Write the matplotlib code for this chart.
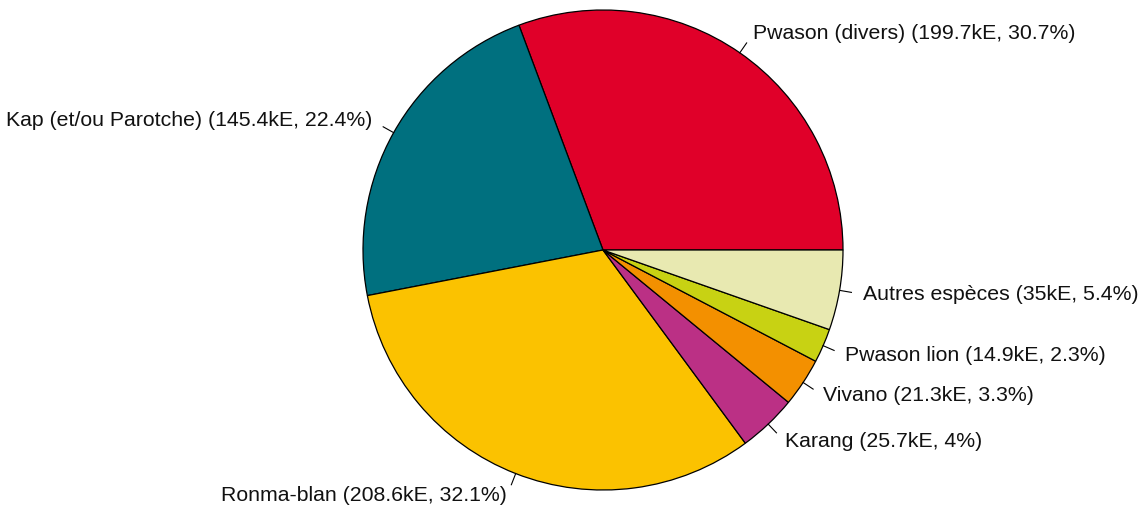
import numpy as np
import matplotlib
matplotlib.use("Agg")
import matplotlib.pyplot as plt

# Data (kE) and shares (%) as printed on the chart
species = ["Pwason (divers)", "Kap (et/ou Parotche)", "Ronma-blan", "Karang",
           "Vivano", "Pwason lion", "Autres espèces"]
values = [199.7, 145.4, 208.6, 25.7, 21.3, 14.9, 35]
shares = [30.7, 22.4, 32.1, 4, 3.3, 2.3, 5.4]
colors = ["#E00029", "#00707F", "#FBC200", "#BB3085", "#F39000", "#C8D213", "#E8E9B1"]

labels = [f"{n} ({v:g}kE, {p:g}%)" for n, v, p in zip(species, values, shares)]

plt.rcParams["font.family"] = ["Liberation Sans", "DejaVu Sans"]

fig = plt.figure(figsize=(11.46, 5.09), dpi=100)
ax = fig.add_axes([0, 0, 1, 1])

cx, cy, r = 603, 259, 240
wedges, _ = ax.pie(values, colors=colors, startangle=0, counterclock=True,
                   center=(cx, cy), radius=r, frame=True,
                   wedgeprops=dict(edgecolor="black", linewidth=0.9))
ax.set_xlim(0, 1146)
ax.set_ylim(0, 509)
ax.set_aspect("equal")
ax.axis("off")

# tick lines from the edge and labels, R style
for w, lab in zip(wedges, labels):
    a = np.deg2rad((w.theta1 + w.theta2) / 2)
    ax.plot([cx + r * np.cos(a), cx + 1.05 * r * np.cos(a)],
            [cy + r * np.sin(a), cy + 1.05 * r * np.sin(a)],
            color="black", linewidth=0.8)
    ax.text(cx + 1.1 * r * np.cos(a), cy + 1.1 * r * np.sin(a), lab,
            ha="left" if np.cos(a) > 0 else "right", va="center",
            fontsize=15.3, color="#111111")

fig.savefig("out.png", dpi=100)
